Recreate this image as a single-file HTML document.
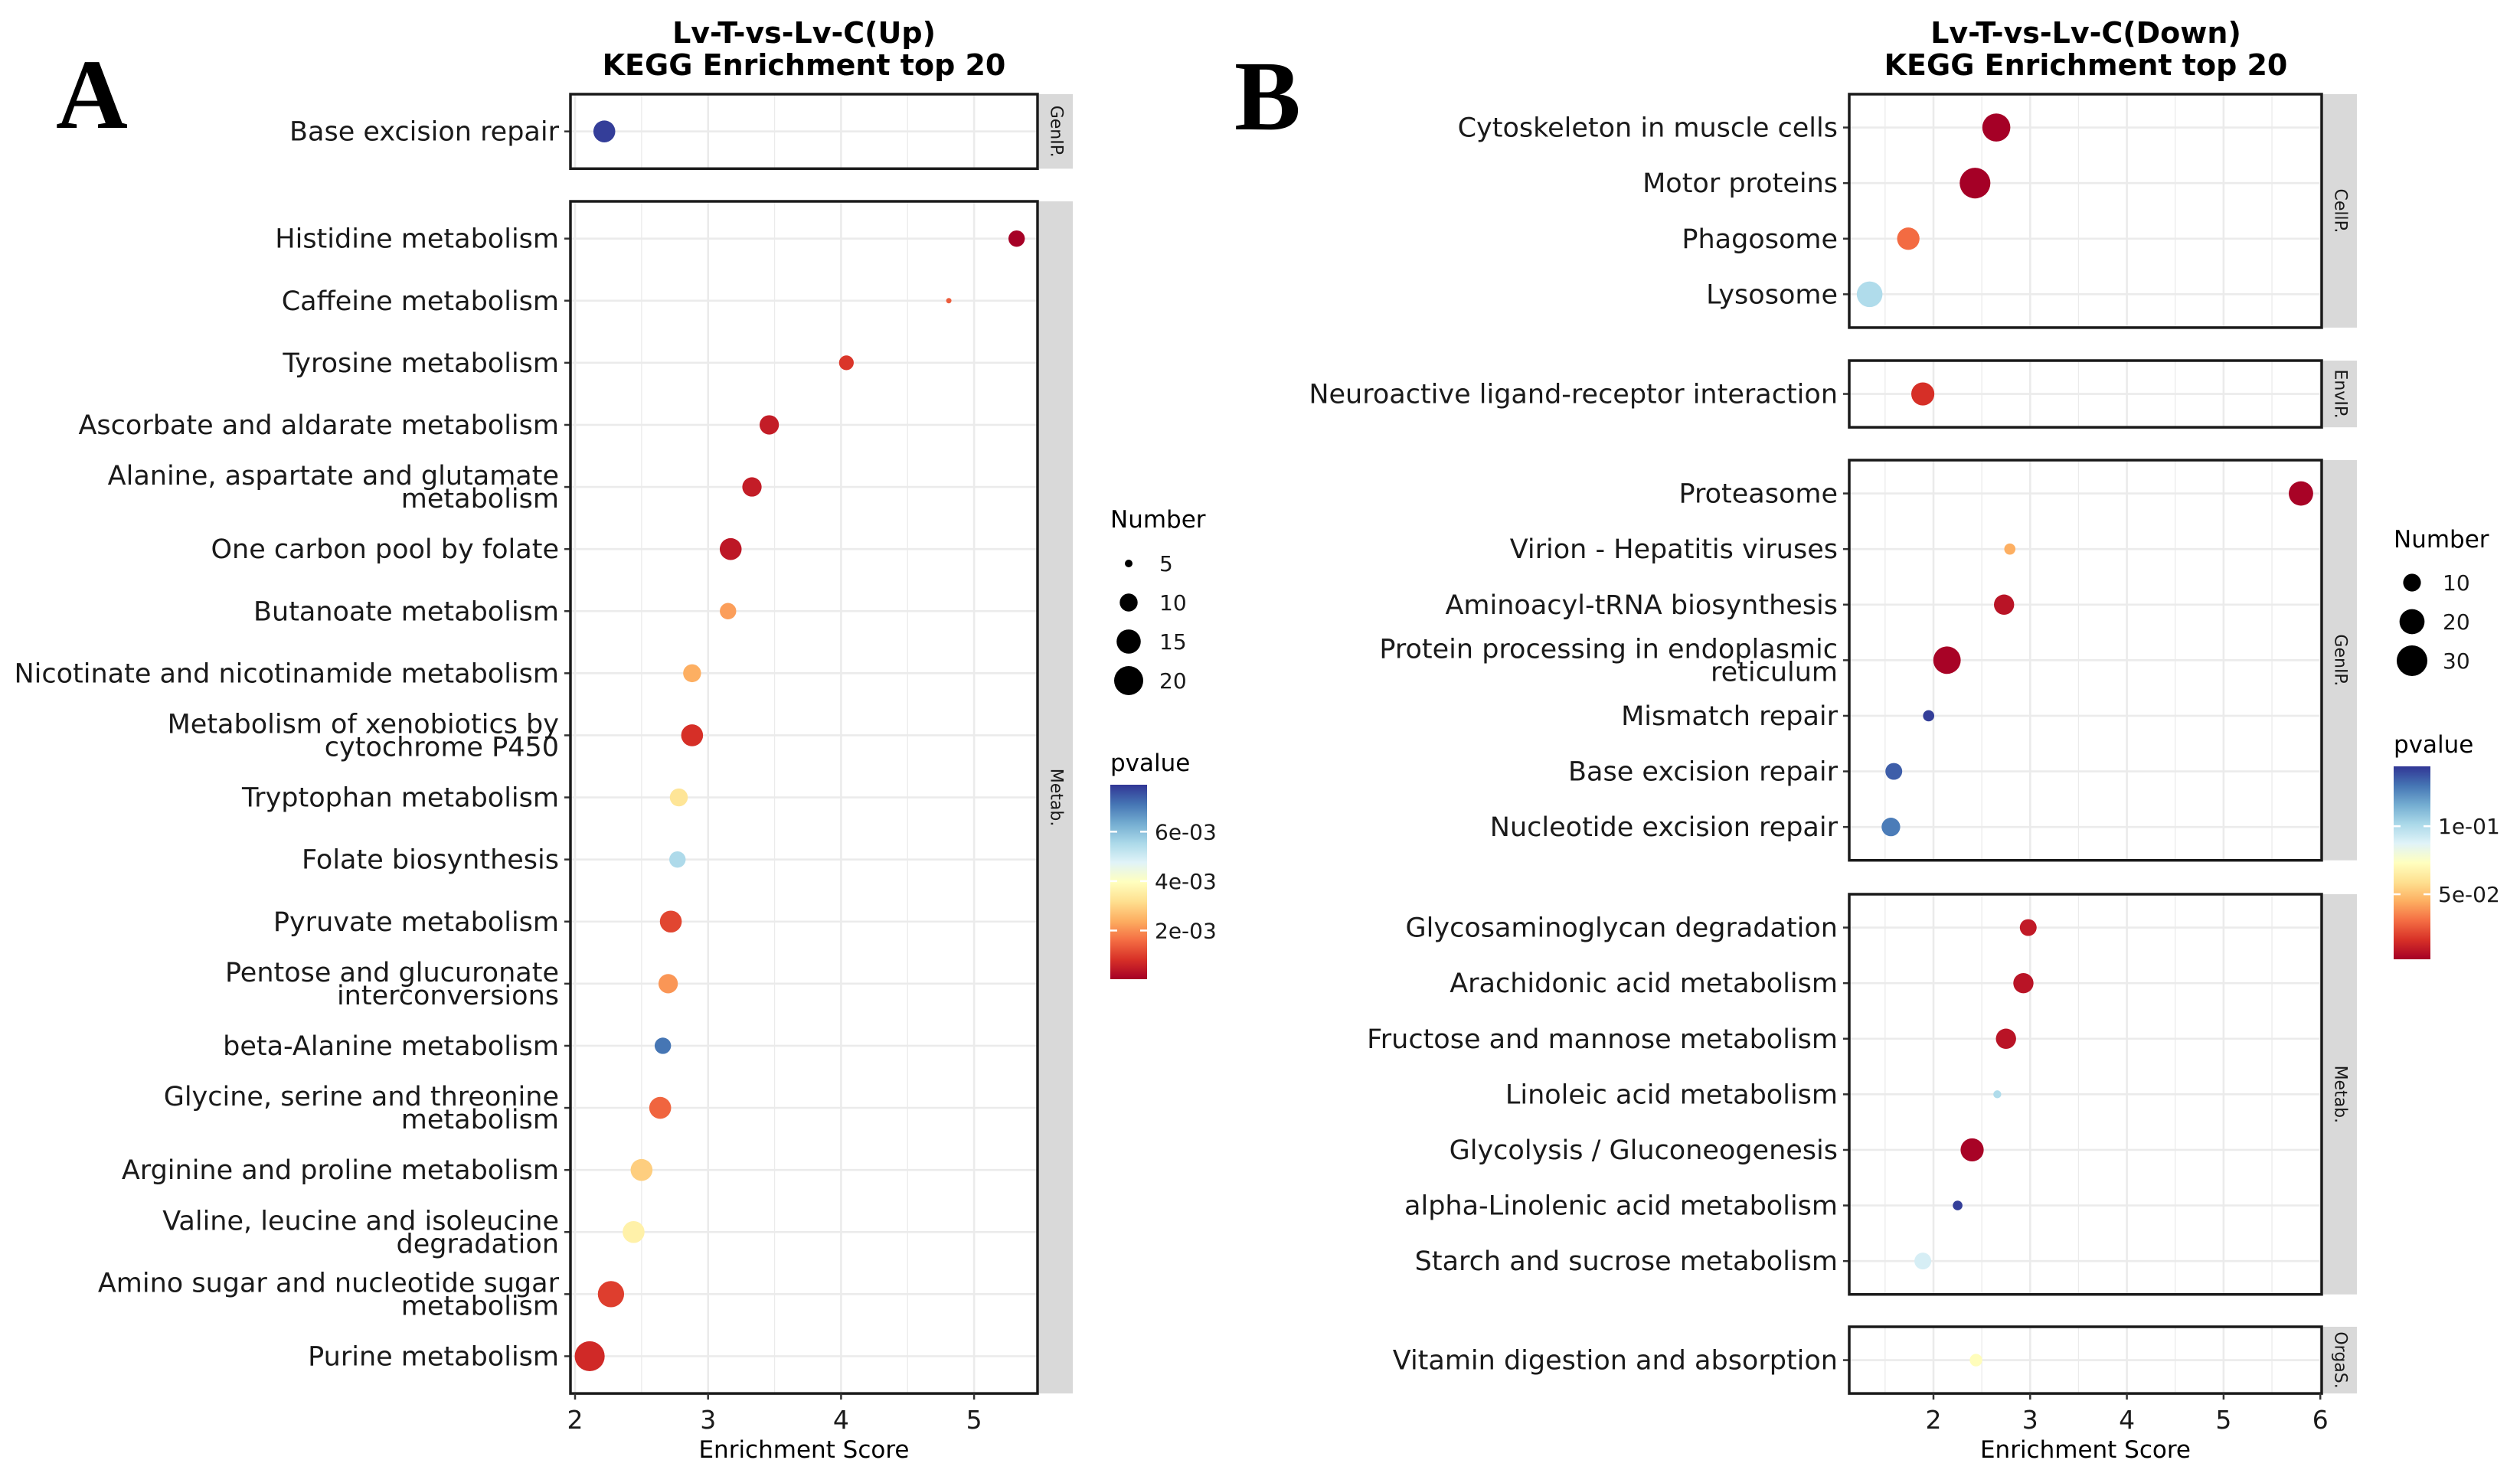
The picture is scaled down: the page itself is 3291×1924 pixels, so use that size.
<!DOCTYPE html>
<html><head><meta charset="utf-8"><title>KEGG Enrichment top 20</title>
<style>
html,body{margin:0;padding:0;background:#fff;}
svg{display:block;font-family:"DejaVu Sans","Liberation Sans",sans-serif;}
</style></head>
<body>
<svg id="fig" width="3291" height="1924" viewBox="0 0 3291 1924" xmlns="http://www.w3.org/2000/svg">
<rect x="0" y="0" width="3291" height="1924" fill="#fff"/>
<text x="73" y="167" font-family="Liberation Serif, serif" font-weight="bold" font-size="130">A</text>
<text x="1612" y="169" font-family="Liberation Serif, serif" font-weight="bold" font-size="130">B</text>
<text x="1050" y="56" text-anchor="middle" font-weight="bold" font-size="38">Lv-T-vs-Lv-C(Up)</text>
<text x="1050" y="98" text-anchor="middle" font-weight="bold" font-size="38">KEGG Enrichment top 20</text>
<text x="2724" y="56" text-anchor="middle" font-weight="bold" font-size="38">Lv-T-vs-Lv-C(Down)</text>
<text x="2724" y="98" text-anchor="middle" font-weight="bold" font-size="38">KEGG Enrichment top 20</text>
<defs>
<linearGradient id="rdylbu" x1="0" y1="1" x2="0" y2="0">
<stop offset="0" stop-color="#a50026"/><stop offset="0.1" stop-color="#d73027"/><stop offset="0.2" stop-color="#f46d43"/><stop offset="0.3" stop-color="#fdae61"/><stop offset="0.4" stop-color="#fee090"/><stop offset="0.5" stop-color="#ffffbf"/><stop offset="0.6" stop-color="#e0f3f8"/><stop offset="0.7" stop-color="#abd9e9"/><stop offset="0.8" stop-color="#74add1"/><stop offset="0.9" stop-color="#4575b4"/><stop offset="1" stop-color="#313695"/>
</linearGradient>
</defs>
</svg>
<script>
// ---------- Chart A data (Up) ----------
const categoriesA = ["Base excision repair","Histidine metabolism","Caffeine metabolism","Tyrosine metabolism","Ascorbate and aldarate metabolism","Alanine, aspartate and glutamate\nmetabolism","One carbon pool by folate","Butanoate metabolism","Nicotinate and nicotinamide metabolism","Metabolism of xenobiotics by\ncytochrome P450","Tryptophan metabolism","Folate biosynthesis","Pyruvate metabolism","Pentose and glucuronate\ninterconversions","beta-Alanine metabolism","Glycine, serine and threonine\nmetabolism","Arginine and proline metabolism","Valine, leucine and isoleucine\ndegradation","Amino sugar and nucleotide sugar\nmetabolism","Purine metabolism"];
const groupsA = ["GenIP.","Metab.","Metab.","Metab.","Metab.","Metab.","Metab.","Metab.","Metab.","Metab.","Metab.","Metab.","Metab.","Metab.","Metab.","Metab.","Metab.","Metab.","Metab.","Metab."];
const scoresA = [2.22,5.32,4.81,4.04,3.46,3.33,3.17,3.15,2.88,2.88,2.78,2.77,2.72,2.70,2.66,2.64,2.50,2.44,2.27,2.11];
const countsA = [13,9,4,8,11,11,13,9,10,13,10,9,13,11,9,13,13,13,17,21];
const pvaluesA = [0.0078,0.00005,0.0014,0.0009,0.0005,0.0005,0.0004,0.0022,0.0024,0.0008,0.0033,0.0055,0.0011,0.0021,0.0071,0.0015,0.0029,0.0036,0.0010,0.0007];
const xTicksA = [2,3,4,5];
const sizeLegendA = [5,10,15,20];
const colorTicksA = [0.006,0.004,0.002];
const colorLabelsA = ["6e-03","4e-03","2e-03"];

// ---------- Chart B data (Down) ----------
const categoriesB = ["Cytoskeleton in muscle cells","Motor proteins","Phagosome","Lysosome","Neuroactive ligand-receptor interaction","Proteasome","Virion - Hepatitis viruses","Aminoacyl-tRNA biosynthesis","Protein processing in endoplasmic\nreticulum","Mismatch repair","Base excision repair","Nucleotide excision repair","Glycosaminoglycan degradation","Arachidonic acid metabolism","Fructose and mannose metabolism","Linoleic acid metabolism","Glycolysis / Gluconeogenesis","alpha-Linolenic acid metabolism","Starch and sucrose metabolism","Vitamin digestion and absorption"];
const groupsB = ["CellP.","CellP.","CellP.","CellP.","EnvIP.","GenIP.","GenIP.","GenIP.","GenIP.","GenIP.","GenIP.","GenIP.","Metab.","Metab.","Metab.","Metab.","Metab.","Metab.","Metab.","OrgaS."];
const scoresB = [2.65,2.43,1.74,1.34,1.89,5.80,2.79,2.73,2.14,1.95,1.59,1.56,2.98,2.93,2.75,2.66,2.40,2.25,1.89,2.44];
const countsB = [25,30,16,21,17,19,4,13,24,4,9,11,9,13,13,2,17,3,9,5];
const pvaluesB = [0.002,0.002,0.030,0.100,0.016,0.003,0.045,0.008,0.003,0.142,0.135,0.128,0.010,0.008,0.008,0.100,0.003,0.142,0.090,0.072];
const xTicksB = [2,3,4,5,6];
const sizeLegendB = [10,20,30];
const colorTicksB = [0.1,0.05];
const colorLabelsB = ["1e-01","5e-02"];

const svg = document.getElementById('fig');
const NS = 'http://www.w3.org/2000/svg';
function mk(tag, attrs, parent){
  const e = document.createElementNS(NS, tag);
  for (const k in attrs) e.setAttribute(k, attrs[k]);
  (parent||svg).appendChild(e);
  return e;
}
const RAMP = ["#a50026","#d73027","#f46d43","#fdae61","#fee090","#ffffbf","#e0f3f8","#abd9e9","#74add1","#4575b4","#313695"];
function hex2rgb(h){return [parseInt(h.slice(1,3),16),parseInt(h.slice(3,5),16),parseInt(h.slice(5,7),16)];}
function ramp(t){
  t=Math.max(0,Math.min(1,t));
  const f=t*(RAMP.length-1), i=Math.min(RAMP.length-2,Math.floor(f)), u=f-i;
  const a=hex2rgb(RAMP[i]), b=hex2rgb(RAMP[i+1]);
  return 'rgb('+a.map((v,k)=>Math.round(v+(b[k]-v)*u)).join(',')+')';
}

function drawChart(cfg){
  const xs = v => cfg.x0 + (v - cfg.xv0) * cfg.xunit;
  const g = mk('g', {});
  
  
  const panels = [];
  cfg.groups.forEach((gr, i) => {
    if (!panels.length || panels[panels.length-1].group !== gr) panels.push({group: gr, idx: []});
    panels[panels.length-1].idx.push(i);
  });
  panels.forEach((p, pi) => {
    const top = cfg.panelTops[pi];
    const h = (p.idx.length - 1 + 1.2) * cfg.step;
    const bottom = top + h;
    const pg = mk('g', {}, g);
    
    
    mk('rect', {x: cfg.left, y: top, width: cfg.right - cfg.left, height: h, fill: '#fff'}, pg);
    for (let v = cfg.xv0 - 0.5; v <= cfg.xmax; v += 0.5) {
      const x = xs(v);
      if (x <= cfg.left || x >= cfg.right) continue;
      const isMajor = Math.abs(v - Math.round(v)) < 1e-6;
      mk('line', {x1: x, x2: x, y1: top, y2: bottom, stroke: '#ebebeb', 'stroke-width': isMajor ? 2.6 : 1.3}, pg);
    }
    p.idx.forEach((i, k) => {
      const y = top + (0.6 + k) * cfg.step;
      mk('line', {x1: cfg.left, x2: cfg.right, y1: y, y2: y, stroke: '#ebebeb', 'stroke-width': 2.6}, pg);
      mk('line', {x1: cfg.left - 8, x2: cfg.left, y1: y, y2: y, stroke: '#333', 'stroke-width': 2.5}, pg);
      const lines = cfg.cats[i].split('\n');
      const t = mk('text', {x: cfg.left - 15, 'text-anchor': 'end', 'font-size': 35, fill: '#1a1a1a'}, pg);
      
      
      if (lines.length === 1) {
        t.setAttribute('y', y + 12);
        t.textContent = lines[0];
      } else {
        lines.forEach((ln, j) => {
          const ts = mk('tspan', {x: cfg.left - 15, y: y + (j === 0 ? -3 : 27)}, t);
          ts.textContent = ln;
        });
      }
      const c = mk('circle', {cx: xs(cfg.scores[i]), cy: y, r: cfg.rfun(cfg.counts[i]), fill: ramp((cfg.pvals[i] - cfg.pmin) / (cfg.pmax - cfg.pmin))}, pg);
      
      
    });
    mk('rect', {x: cfg.left, y: top, width: cfg.right - cfg.left, height: h, fill: 'none', stroke: '#1a1a1a', 'stroke-width': 3.5}, pg);
    const s = mk('rect', {x: cfg.right + 2, y: top, width: 44, height: h, fill: '#d9d9d9'}, pg);
    
    
    const cy = top + h / 2;
    const st = mk('text', {x: cfg.right + 24, y: cy, 'font-size': 22, fill: '#1a1a1a', 'text-anchor': 'middle', 'dominant-baseline': 'central', transform: 'rotate(90 ' + (cfg.right + 24) + ' ' + cy + ')'}, pg);
    
    
    st.textContent = p.group;
    if (pi === panels.length - 1) {
      cfg.xticks.forEach(v => {
        const x = xs(v);
        mk('line', {x1: x, x2: x, y1: bottom, y2: bottom + 8, stroke: '#333', 'stroke-width': 2.5}, g);
        const tl = mk('text', {x: x, y: 1866, 'text-anchor': 'middle', 'font-size': 33, fill: '#1a1a1a'}, g);
        
        
        tl.textContent = v;
      });
      const at = mk('text', {x: (cfg.left + cfg.right) / 2, y: 1904, 'text-anchor': 'middle', 'font-size': 31, fill: '#000'}, g);
      
      
      at.textContent = 'Enrichment Score';
    }
  });
  const lg = mk('g', {}, g);
  
  
  const lt = mk('text', {x: cfg.legX, y: cfg.sizeTitleY + 11, 'font-size': 31, fill: '#000'}, lg);
  lt.textContent = 'Number';
  cfg.sizeLegend.forEach((n, k) => {
    const y = cfg.sizeY0 + k * cfg.sizeStep;
    const c = mk('circle', {cx: cfg.legX + 24, cy: y, r: cfg.rfun(n), fill: '#000'}, lg);
    
    
    const tt = mk('text', {x: cfg.legX + 64, y: y + 10, 'font-size': 28, fill: '#1a1a1a'}, lg);
    tt.textContent = n;
  });
  const cg = mk('g', {}, g);
  
  
  const ct = mk('text', {x: cfg.legX, y: cfg.colTitleY + 11, 'font-size': 31, fill: '#000'}, cg);
  ct.textContent = 'pvalue';
  mk('rect', {x: cfg.legX, y: cfg.barTop, width: 48, height: cfg.barBot - cfg.barTop, fill: 'url(#rdylbu)'}, cg);
  const py = p => cfg.barBot - (p - cfg.pmin) / (cfg.pmax - cfg.pmin) * (cfg.barBot - cfg.barTop);
  cfg.colorTicks.forEach((p, k) => {
    const y = py(p);
    mk('line', {x1: cfg.legX, x2: cfg.legX + 9, y1: y, y2: y, stroke: '#fff', 'stroke-width': 2.5}, cg);
    mk('line', {x1: cfg.legX + 39, x2: cfg.legX + 48, y1: y, y2: y, stroke: '#fff', 'stroke-width': 2.5}, cg);
    const tt = mk('text', {x: cfg.legX + 58, y: y + 10, 'font-size': 28, fill: '#1a1a1a'}, cg);
    tt.textContent = cfg.colorLabels[k];
  });
}

drawChart({
  name: 'chart-a-up', cats: categoriesA, groups: groupsA, scores: scoresA, counts: countsA, pvals: pvaluesA,
  x0: 751, xv0: 2, xunit: 173.7, xmax: 6, left: 745, right: 1355, step: 81.1,
  panelTops: [123, 263], xticks: xTicksA,
  rfun: n => Math.sqrt(Math.max(12, 25 + (n - 5) * 22.4)),
  pmin: 0.00003, pmax: 0.0079,
  legX: 1450, sizeTitleY: 678, sizeY0: 736, sizeStep: 51, sizeLegend: sizeLegendA,
  colTitleY: 996, barTop: 1025, barBot: 1279, colorTicks: colorTicksA, colorLabels: colorLabelsA
});
drawChart({
  name: 'chart-b-down', cats: categoriesB, groups: groupsB, scores: scoresB, counts: countsB, pvals: pvaluesB,
  x0: 2525, xv0: 2, xunit: 126.3, xmax: 7, left: 2415, right: 3032, step: 72.6,
  panelTops: [123, 471, 601, 1168, 1733], xticks: xTicksB,
  rfun: n => Math.sqrt(13.4 * n),
  pmin: 0.0022, pmax: 0.144,
  legX: 3126, sizeTitleY: 704, sizeY0: 761, sizeStep: 51, sizeLegend: sizeLegendB,
  colTitleY: 972, barTop: 1001, barBot: 1253, colorTicks: colorTicksB, colorLabels: colorLabelsB
});
</script>
</body></html>
